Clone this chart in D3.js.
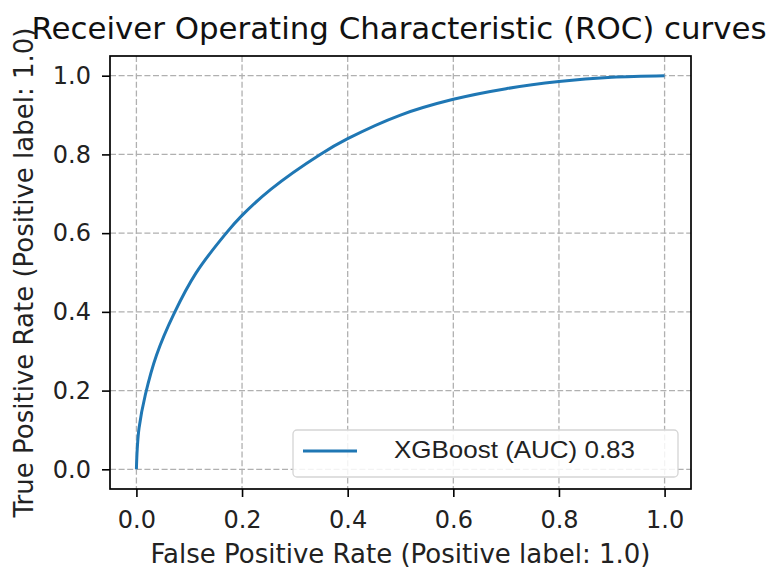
<!DOCTYPE html>
<html><head><meta charset="utf-8">
<script src="https://cdn.jsdelivr.net/npm/d3@7"></script>
<style>html,body{margin:0;padding:0;background:#fff;}</style>
</head><body>
<svg id="c" width="774" height="570"></svg>
<script>
const fpr = [0, 0.0015, 0.005, 0.017, 0.038, 0.071, 0.113, 0.17, 0.2, 0.255, 0.348, 0.4, 0.5, 0.6, 0.7, 0.8, 0.9, 1.0];
const tpr = [0, 0.05, 0.105, 0.19, 0.29, 0.395, 0.499, 0.6, 0.645, 0.712, 0.8, 0.84, 0.9, 0.94, 0.967, 0.985, 0.996, 1.0];
const xTicks = [0, 0.2, 0.4, 0.6, 0.8, 1.0];
const yTicks = [0, 0.2, 0.4, 0.6, 0.8, 1.0];
const seriesName = "XGBoost (AUC) 0.83";
const titleText = "Receiver Operating Characteristic (ROC) curves";
const xLabel = "False Positive Rate (Positive label: 1.0)";
const yLabel = "True Positive Rate (Positive label: 1.0)";

const svg = d3.select("#c");
const L = 110, R = 691, T = 56, B = 489;
const x = d3.scaleLinear().domain([-0.05, 1.05]).range([L, R]);
const y = d3.scaleLinear().domain([-0.05, 1.05]).range([B, T]);
const font = "DejaVu Sans";

// grid
const g = svg.append("g");
g.selectAll(".gx").data(xTicks).join("line")
  .attr("x1", d => x(d)).attr("x2", d => x(d)).attr("y1", T).attr("y2", B)
  .attr("stroke", "#b0b0b0").attr("stroke-width", 1.3).attr("stroke-dasharray", "6,2.6");
g.selectAll(".gy").data(yTicks).join("line")
  .attr("y1", d => y(d)).attr("y2", d => y(d)).attr("x1", L).attr("x2", R)
  .attr("stroke", "#b0b0b0").attr("stroke-width", 1.3).attr("stroke-dasharray", "6,2.6");

// curve
const pts = fpr.map((f, i) => [f, tpr[i]]);
svg.append("path").datum(pts)
  .attr("d", d3.line().x(d => x(d[0])).y(d => y(d[1])).curve(d3.curveCatmullRom.alpha(0.5)))
  .attr("fill", "none").attr("stroke", "#1f77b4").attr("stroke-width", 3);

// axes
const xa = svg.append("g").attr("transform", `translate(0,${B})`)
  .call(d3.axisBottom(x).tickValues(xTicks).tickFormat(d3.format(".1f")).tickSize(8).tickPadding(14).tickSizeOuter(0));
const ya = svg.append("g").attr("transform", `translate(${L},0)`)
  .call(d3.axisLeft(y).tickValues(yTicks).tickFormat(d3.format(".1f")).tickSize(8).tickPadding(11).tickSizeOuter(0));
[xa, ya].forEach(a => {
  a.select(".domain").remove();
  a.selectAll("line").attr("stroke", "#000").attr("stroke-width", 1.6);
  a.selectAll("text").attr("font-family", font).attr("font-size", 24).attr("fill", "#222");
});
// frame
svg.append("rect").attr("x", L).attr("y", T).attr("width", R - L).attr("height", B - T)
  .attr("fill", "none").attr("stroke", "#000").attr("stroke-width", 1.7);

// legend
const lg = svg.append("g");
lg.append("rect").attr("x", 293).attr("y", 430).attr("width", 385).attr("height", 47).attr("rx", 4)
  .attr("fill", "#fff").attr("fill-opacity", 0.85).attr("stroke", "#d5d5d5").attr("stroke-width", 1.3);
lg.append("line").attr("x1", 303).attr("x2", 357).attr("y1", 451).attr("y2", 451)
  .attr("stroke", "#1f77b4").attr("stroke-width", 3);
lg.append("text").attr("x", 394).attr("y", 458).text(seriesName)
  .attr("font-family", "Liberation Sans").attr("font-size", 24).attr("fill", "#222")
  .attr("textLength", 241).attr("lengthAdjust", "spacingAndGlyphs");

// title
svg.append("text").attr("x", 399).attr("y", 39).attr("text-anchor", "middle")
  .attr("font-family", font).attr("font-size", 30).attr("fill", "#111").text(titleText)
  .attr("textLength", 735).attr("lengthAdjust", "spacingAndGlyphs");

// labels
svg.append("text").attr("x", (L + R) / 2).attr("y", 563).attr("text-anchor", "middle")
  .attr("font-family", font).attr("font-size", 26).attr("fill", "#222").text(xLabel);
svg.append("text").attr("transform", `translate(33,${(T + B) / 2}) rotate(-90)`).attr("text-anchor", "middle")
  .attr("font-family", font).attr("font-size", 26).attr("fill", "#222").text(yLabel);
</script>
</body></html>
